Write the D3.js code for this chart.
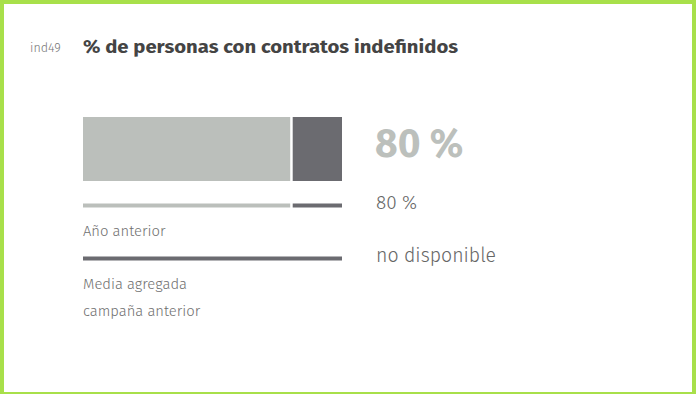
<!DOCTYPE html>
<html><head><meta charset="utf-8">
<script src="https://cdn.jsdelivr.net/npm/d3@7"></script>
<style>
html,body{margin:0;padding:0;background:#fff;}
svg{display:block;}
</style></head>
<body>
<script>
const indicatorId = "ind49";
const title = "% de personas con contratos indefinidos";
const current = 80;          // % current
const previousYear = 80;     // % año anterior
const previousCampaign = null; // no disponible
const labels = ["Año anterior", "Media agregada", "campaña anterior"];
const valueLabels = ["80 %", "80 %", "no disponible"];

const W = 696, H = 394;
const svg = d3.select("body").append("svg").attr("width", W).attr("height", H);

// border
svg.append("rect").attr("x",0).attr("y",0).attr("width",W).attr("height",H).attr("fill","#a8e04a");
svg.append("rect").attr("x",4).attr("y",4).attr("width",W-8).attr("height",H-6).attr("fill","#fff");

const font = "'Fira Sans','Noto Sans',sans-serif";

svg.append("text").attr("x",30).attr("y",52).text(indicatorId)
  .attr("font-family",font).attr("font-size",12.5).attr("font-weight",300).attr("fill","#777");
svg.append("text").attr("x",83).attr("y",53).text(title)
  .attr("font-family",font).attr("font-size",18.5).attr("font-weight","bold").attr("fill","#444")
  .attr("textLength",375).attr("lengthAdjust","spacingAndGlyphs");

const x = d3.scaleLinear().domain([0,100]).range([83,342]);
const gap = 2.5;
const light = "#bbbfbb", dark = "#6b6b70";

// main bar
svg.append("rect").attr("x",x(0)).attr("y",117).attr("width",x(current)-x(0)).attr("height",64).attr("fill",light);
svg.append("rect").attr("x",x(current)+gap).attr("y",117).attr("width",x(100)-x(current)-gap).attr("height",64).attr("fill",dark);

// previous year line
svg.append("rect").attr("x",x(0)).attr("y",203.5).attr("width",x(previousYear)-x(0)).attr("height",4).attr("fill",light);
svg.append("rect").attr("x",x(previousYear)+gap).attr("y",203.5).attr("width",x(100)-x(previousYear)-gap).attr("height",4).attr("fill",dark);

// previous campaign line (no data -> full dark)
const pc = previousCampaign == null ? 0 : previousCampaign;
if (pc > 0) svg.append("rect").attr("x",x(0)).attr("y",256.5).attr("width",x(pc)-x(0)).attr("height",4).attr("fill",light);
svg.append("rect").attr("x",x(pc)).attr("y",256.5).attr("width",x(100)-x(pc)).attr("height",4).attr("fill",dark);

const lab = svg.append("g").attr("font-family",font).attr("font-size",14.8).attr("font-weight",300).attr("fill","#707070");
lab.append("text").attr("x",83).attr("y",236).text(labels[0]);
lab.append("text").attr("x",83).attr("y",289).text(labels[1]);
lab.append("text").attr("x",83).attr("y",316).text(labels[2]);

svg.append("text").attr("x",375).attr("y",157).text(current + " %")
  .attr("font-family",font).attr("font-size",39).attr("font-weight","bold").attr("fill","#bcc0bc");
svg.append("text").attr("x",376).attr("y",209).text(valueLabels[1])
  .attr("font-family",font).attr("font-size",19).attr("font-weight",300).attr("fill","#666");
svg.append("text").attr("x",376).attr("y",262).text(valueLabels[2])
  .attr("font-family",font).attr("font-size",19.5).attr("font-weight",300).attr("fill","#666");
</script>
</body></html>
